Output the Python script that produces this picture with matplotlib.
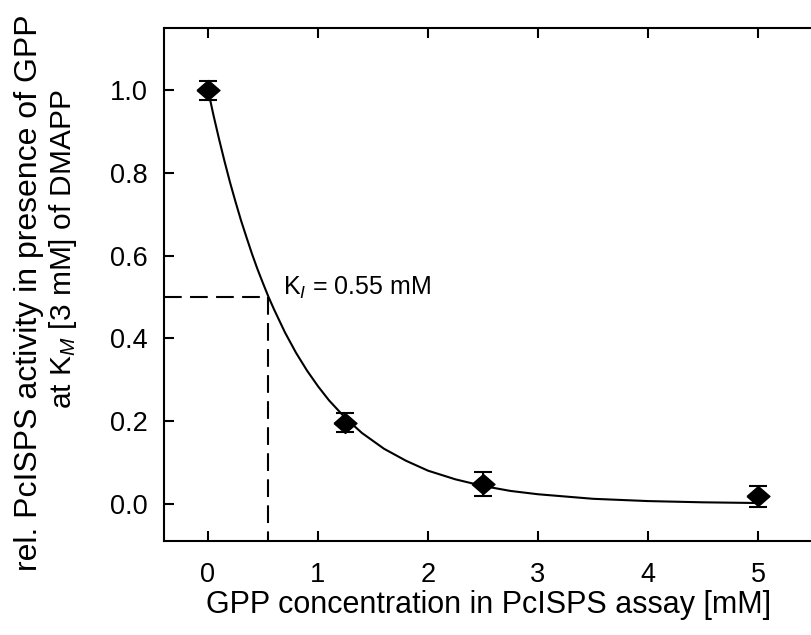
import matplotlib
matplotlib.use("Agg")
import matplotlib.pyplot as plt

# measured data
conc = [0.0, 1.25, 2.5, 5.0]
activity = [1.0, 0.196, 0.047, 0.018]
activity_err = [0.023, 0.023, 0.029, 0.025]

# fitted curve
fit_x = [0.0, 0.05, 0.1, 0.15, 0.2, 0.25, 0.3, 0.35, 0.4, 0.45, 0.5, 0.55, 0.6, 0.7,
         0.8, 0.9, 1.0, 1.1, 1.25, 1.4, 1.6, 1.8, 2.0, 2.25, 2.5, 2.75, 3.0, 3.5,
         4.0, 4.5, 5.0]
fit_y = [1.0, 0.939, 0.882, 0.828, 0.777, 0.730, 0.685, 0.644, 0.604, 0.567, 0.533,
         0.500, 0.470, 0.414, 0.365, 0.322, 0.284, 0.250, 0.207, 0.171, 0.133,
         0.104, 0.080, 0.059, 0.043, 0.031, 0.023, 0.012, 0.0065, 0.0035, 0.0018]

ki = 0.55
half = 0.5

xticks = [0, 1, 2, 3, 4, 5]
yticks = [0.0, 0.2, 0.4, 0.6, 0.8, 1.0]

plt.rcParams['font.family'] = ['Liberation Sans', 'DejaVu Sans']
plt.rcParams['mathtext.fontset'] = 'custom'
plt.rcParams['mathtext.rm'] = 'Liberation Sans'
plt.rcParams['mathtext.it'] = 'Liberation Sans:italic'

fig = plt.figure(figsize=(8.12, 6.35), dpi=100)
W, H = 812, 635
left, right, bottom, top = 164, 821, 541, 28
ax = fig.add_axes([left / W, 1 - bottom / H, (right - left) / W, (bottom - top) / H])

ax.plot(fit_x, fit_y, color='black', lw=1.5, zorder=2)

diamond = [(-1.0, 0.0), (0.0, 0.87), (1.0, 0.0), (0.0, -0.87), (-1.0, 0.0)]
ax.errorbar(conc, activity, yerr=activity_err, fmt='none', ecolor='black',
            elinewidth=1.5, capsize=6.5, capthick=1.5, zorder=3)
ax.plot(conc, activity, linestyle='none', marker=diamond, markersize=16.5,
        color='black', zorder=4)

ax.plot([-0.4, ki], [half, half], color='black', lw=1.5, dashes=(8.5, 4), zorder=1)
ax.plot([ki, ki], [half, -0.09], color='black', lw=1.5, dashes=(8.5, 4), zorder=1)

ax.text(0.68, 0.504, r'K$_{\mathit{I}}$ = 0.55 mM', fontsize=18, ha='left', va='baseline')

ax.set_xlim(-0.4, (right - 208) / 110.0)
ax.set_ylim(-0.09, 1.15)
ax.set_xticks(xticks)
ax.set_yticks(yticks)
ax.set_xticklabels([str(t) for t in xticks])
ax.set_yticklabels(['%.1f' % t for t in yticks])

for s in ax.spines.values():
    s.set_linewidth(1.5)
ax.tick_params(direction='in', length=7, width=1.5, labelsize=19.5,
               top=True, right=True)
ax.tick_params(axis='x', pad=15)
ax.tick_params(axis='y', pad=12)

ax.set_xlabel('GPP concentration in PcISPS assay [mM]', fontsize=22)
ax.xaxis.set_label_coords((489 - left) / (right - left), -0.095)

# two-line y label, drawn as two rotated texts
fig.text(29 / W, 1 - 14 / H, 'rel. PcISPS activity in presence of GPP',
         rotation=90, ha='center', va='top', fontsize=23)
fig.text(63 / W, 1 - 90 / H, 'at K$_{\\mathit{M}}$ [3 mM] of DMAPP',
         rotation=90, ha='center', va='top', fontsize=21.5)

fig.savefig('out.png', dpi=100)
